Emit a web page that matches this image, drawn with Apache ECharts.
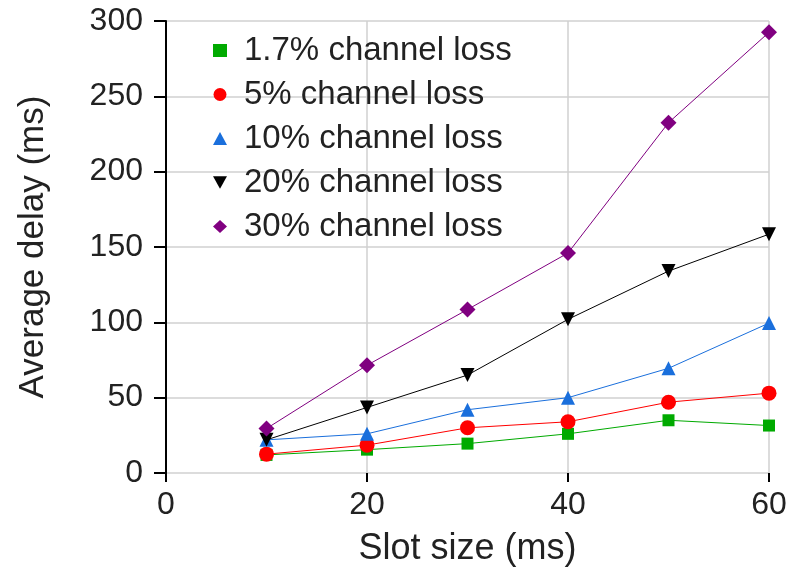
<!DOCTYPE html>
<html>
<head>
<meta charset="utf-8">
<script src="https://cdn.jsdelivr.net/npm/echarts@6/dist/echarts.min.js"></script>
<style>
  html, body { margin: 0; padding: 0; background: #fff; }
  #main { width: 804px; height: 572px; }
</style>
</head>
<body>
<div id="main"></div>
<script>
var slotSizes = [10, 20, 30, 40, 50, 60];
var loss1_7 = [12, 15.5, 19.5, 26, 35, 31.5];
var loss5 = [12.5, 18.5, 30, 34, 47, 53];
var loss10 = [22, 26, 42, 50, 69.5, 99.5];
var loss20 = [22, 43.5, 65, 102, 134, 158.5];
var loss30 = [29.5, 71.5, 108.5, 146, 232.5, 292.5];
var seriesNames = ["1.7% channel loss", "5% channel loss", "10% channel loss", "20% channel loss", "30% channel loss"];

var downTriangle = "path://M0,0L10,0L5,9Z";
var fontFamily = "Liberation Sans, Arial, sans-serif";

function pairs(values) {
    return slotSizes.map(function (x, i) { return [x, values[i]]; });
}

var myChart = echarts.init(document.getElementById("main"));
var option;

function makeSeries(name, values, color, symbol, size) {
    return {
        name: name,
        type: "line",
        data: pairs(values),
        symbol: symbol,
        symbolSize: size,
        showAllSymbol: true,
        lineStyle: { color: color, width: 1 },
        itemStyle: { color: color },
        emphasis: { disabled: true },
        animation: false,
    };
}

option = {
    backgroundColor: "#fff",
    textStyle: { fontFamily: fontFamily },
    grid: {
        left: 166,
        right: 35,
        top: 21,
        bottom: 97,
    },
    legend: {
        orient: "vertical",
        left: 208,
        top: 29,
        itemGap: 11,
        itemWidth: 14,
        itemHeight: 13,
        textStyle: { fontSize: 33, color: "#222", fontFamily: fontFamily, padding: [0, 0, 0, 12] },
        data: [
            { name: seriesNames[0], icon: "rect", itemStyle: { color: "#00aa00" } },
            { name: seriesNames[1], icon: "circle" },
            { name: seriesNames[2], icon: "triangle" },
            { name: seriesNames[3], icon: downTriangle },
            { name: seriesNames[4], icon: "diamond" },
        ],
    },
    xAxis: {
        type: "value",
        min: 0,
        max: 60,
        interval: 20,
        name: "Slot size (ms)",
        nameLocation: "middle",
        nameGap: 58,
        nameTextStyle: { fontSize: 36, color: "#222" },
        axisLine: { show: false },
        axisTick: { show: true, length: 9, lineStyle: { color: "#000", width: 2 } },
        axisLabel: { fontSize: 32, color: "#222", margin: 16 },
        splitLine: { show: true, lineStyle: { color: "#d0d0d0", width: 1.5 } },
    },
    yAxis: {
        type: "value",
        min: 0,
        max: 300,
        interval: 50,
        name: "Average delay (ms)",
        nameLocation: "middle",
        nameGap: 115,
        nameTextStyle: { fontSize: 35, color: "#222" },
        axisLine: { show: true, onZero: false, lineStyle: { color: "#000", width: 2 } },
        axisTick: { show: true, length: 12, lineStyle: { color: "#000", width: 2 } },
        axisLabel: { fontSize: 32, color: "#222", margin: 23 },
        splitLine: { show: true, lineStyle: { color: "#d0d0d0", width: 1.5 } },
    },
    series: [
        makeSeries(seriesNames[0], loss1_7, "#00aa00", "rect", 12),
        makeSeries(seriesNames[1], loss5, "#ff0000", "circle", 15),
        makeSeries(seriesNames[2], loss10, "#1a6fdc", "triangle", 14),
        makeSeries(seriesNames[3], loss20, "#000000", downTriangle, 14),
        makeSeries(seriesNames[4], loss30, "#800080", "diamond", 16),
    ],
};
option && myChart.setOption(option);
</script>
</body>
</html>
